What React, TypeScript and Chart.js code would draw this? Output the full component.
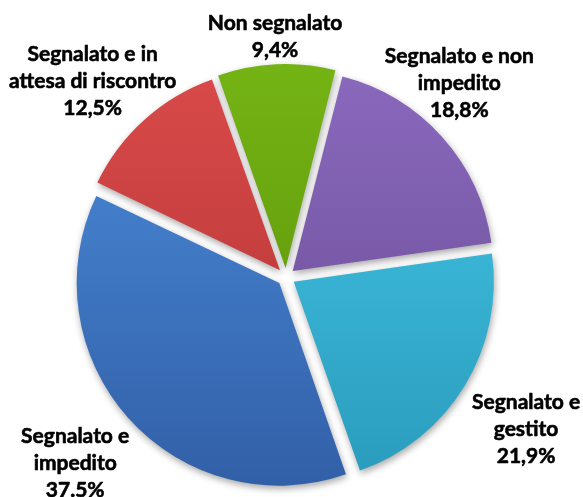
import React, { useEffect, useRef } from "react";
import { Chart, registerables } from "chart.js";

Chart.register(...registerables);

// ---- data ----
const categories: string[][] = [
  ["Non segnalato"],
  ["Segnalato e non", "impedito"],
  ["Segnalato e", "gestito"],
  ["Segnalato e", "impedito"],
  ["Segnalato e in", "attesa di riscontro"],
];
const values: number[] = [9.4, 18.8, 21.9, 37.5, 12.5];
const valueLabels: string[] = ["9,4%", "18,8%", "21,9%", "37.5%", "12,5%"];

// ---- styles ----
const topColors = ["#74b314", "#8a69bd", "#45c6e6", "#4a8ad8", "#d94a4a"];
const bottomColors = ["#5a9008", "#674992", "#2a9cbd", "#3260a8", "#b03232"];
// per-label placement relative to slice bisector: [distance from centre, angle tweak in degrees]
const labelLayout: [number, number][] = [
  [241, 0],
  [260, -6.3],
  [284, 1],
  [281, 0.5],
  [275, -2.7],
];
const RADIUS = 200;
const OFFSET_PX = 9;
const FONT = "bold 21px Lato, 'Liberation Sans', sans-serif";
const LINE_H = 27;

const shadowPlugin = {
  id: "shadowPlugin",
  beforeDatasetsDraw(chart: any) {
    const ctx = chart.ctx;
    ctx.save();
    ctx.shadowColor = "rgba(0,0,0,0.35)";
    ctx.shadowBlur = 7;
    ctx.shadowOffsetX = 1;
    ctx.shadowOffsetY = 3;
  },
  afterDatasetsDraw(chart: any) {
    chart.ctx.restore();
  },
};

const labelPlugin = {
  id: "labelPlugin",
  afterDraw(chart: any) {
    const ctx = chart.ctx;
    const meta = chart.getDatasetMeta(0);
    ctx.save();
    ctx.font = FONT;
    ctx.fillStyle = "#000";
    ctx.strokeStyle = "#000";
    ctx.lineWidth = 0.6;
    ctx.lineJoin = "round";
    ctx.textAlign = "center";
    ctx.textBaseline = "middle";
    meta.data.forEach((arc: any, i: number) => {
      const p = arc.getProps(["x", "y", "startAngle", "endAngle"], true);
      const [dist, dAng] = labelLayout[i];
      const mid = (p.startAngle + p.endAngle) / 2 + (dAng * Math.PI) / 180;
      const cx = p.x + Math.cos(mid) * dist;
      const cy = p.y + Math.sin(mid) * dist;
      const lines = [...categories[i], valueLabels[i]];
      const y0 = cy - ((lines.length - 1) * LINE_H) / 2;
      lines.forEach((t, k) => {
        ctx.fillText(t, cx, y0 + k * LINE_H);
        ctx.strokeText(t, cx, y0 + k * LINE_H);
      });
    });
    ctx.restore();
  },
};

export default function App() {
  const ref = useRef<HTMLCanvasElement>(null);
  useEffect(() => {
    if (!ref.current) return;
    const chart = new Chart(ref.current, {
      type: "pie",
      data: {
        labels: categories.map((c) => c.join(" ")),
        datasets: [
          {
            data: values,
            backgroundColor: (c: any) => {
              const ch = c.chart;
              const ca = ch.chartArea;
              const i = c.dataIndex;
              if (!ca) return topColors[i];
              const cy = (ca.top + ca.bottom) / 2;
              const g = ch.ctx.createLinearGradient(0, cy - RADIUS, 0, cy + RADIUS);
              g.addColorStop(0, topColors[i]);
              g.addColorStop(1, bottomColors[i]);
              return g;
            },
            borderWidth: 0,
            // Chart.js arc draws offset / 4 px along the bisector
            offset: OFFSET_PX * 4,
            hoverOffset: OFFSET_PX * 4,
          } as any,
        ],
      },
      options: {
        animation: false,
        responsive: true,
        maintainAspectRatio: false,
        rotation: -19.5,
        radius: RADIUS,
        layout: { padding: { left: 0, right: 11, top: 57, bottom: 0 } },
        plugins: {
          legend: { display: false },
          tooltip: { enabled: false },
        },
        events: [],
      } as any,
      plugins: [shadowPlugin, labelPlugin],
    });
    return () => chart.destroy();
  }, []);
  return (
    <div style={{ position: "absolute", left: 0, top: 0, width: 583, height: 497, background: "#fff" }}>
      <canvas ref={ref} />
    </div>
  );
}
